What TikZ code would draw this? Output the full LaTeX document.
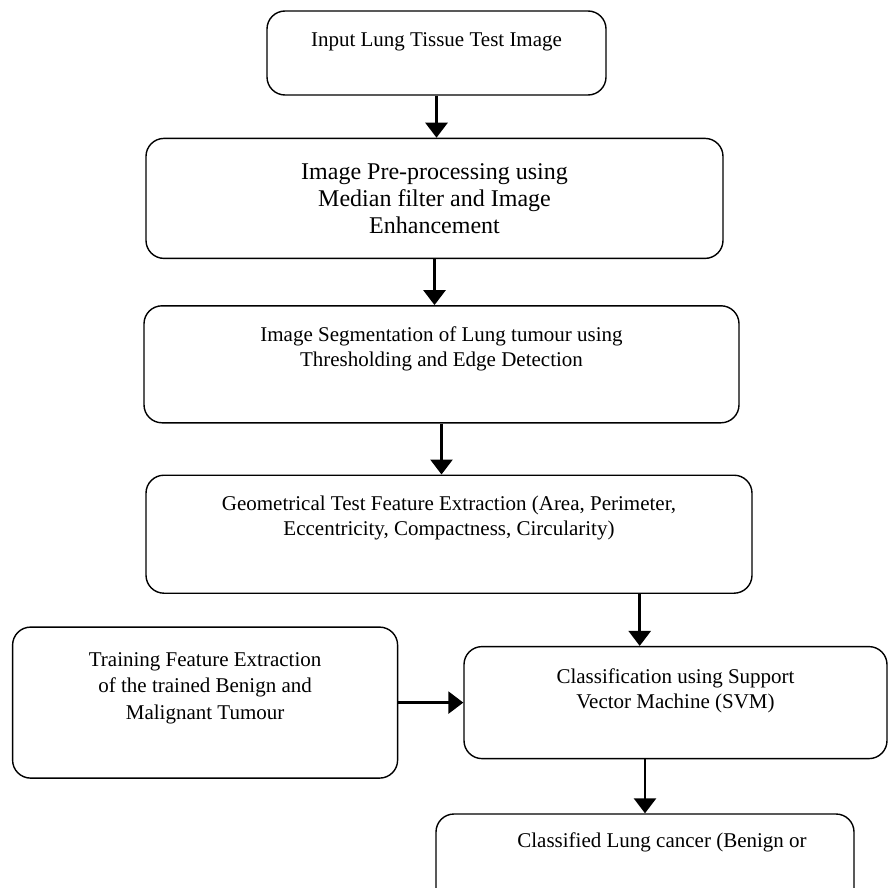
\documentclass[tikz,border=0pt]{standalone}
\usepackage{fontspec}
\setmainfont{Liberation Serif}
\usepackage{tikz}
\usetikzlibrary{arrows.meta, positioning}

\begin{document}
\begin{tikzpicture}[
    box/.style={draw, rounded corners=9pt, line width=0.7pt, align=center,
                font=\fontsize{10.5}{12.5}\selectfont},
    arrow/.style={-{Triangle[length=7.5pt, width=11pt]}, line width=1.4pt},
]
\useasboundingbox (0,0) rectangle (444pt,-444pt);

% Main column
\node[box, minimum width=169.5pt, minimum height=42pt, text height=8pt, text depth=14pt]
    (input) at (218.25pt,-26.5pt) {Input Lung Tissue Test Image};
\node[box, minimum width=288.5pt, minimum height=60pt, text height=35pt, text depth=0pt,
      font=\fontsize{12}{13.5}\selectfont, below=21pt of input, xshift=-1pt] (prep)
    {Image Pre-processing using\\Median filter and Image\\Enhancement};
\node[box, minimum width=297.5pt, minimum height=58.5pt, text height=20.5pt, text depth=18pt,
      below=23pt of prep, xshift=3.5pt] (segm)
    {Image Segmentation of Lung tumour using\\Thresholding and Edge Detection};
\node[box, minimum width=303pt, minimum height=59pt, text height=20.5pt, text depth=19.5pt,
      below=25.5pt of segm, xshift=3.75pt] (feat)
    {Geometrical Test Feature Extraction (Area, Perimeter,\\Eccentricity, Compactness, Circularity)};

% Classification stage
\node[box, minimum width=211.5pt, minimum height=56pt, text height=20.5pt, text depth=14.5pt,
      below=26pt of feat, xshift=113.25pt] (svm)
    {Classification using Support\\Vector Machine (SVM)};
\node[box, minimum width=192.5pt, minimum height=75.5pt, text height=34.5pt, text depth=18pt,
      font=\fontsize{10.5}{13.25}\selectfont, left=32.5pt of svm] (train)
    {Training Feature Extraction\\of the trained Benign and\\Malignant Tumour};
\node[box, minimum width=209pt, minimum height=60pt, text height=8pt, text depth=35pt,
      below=27pt of svm, xshift=-15.25pt] (result)
    {\hspace*{17pt}Classified Lung cancer (Benign or};

% Connectors
\draw[arrow] (input.south) -- (input.south |- prep.north);
\draw[arrow] (prep.south) -- (prep.south |- segm.north);
\draw[arrow] (segm.south) -- (segm.south |- feat.north);
\draw[arrow] ([xshift=-56.5pt]feat.south east) -- ([xshift=-56.5pt]feat.south east |- svm.north);
\draw[arrow] (train.east) -- (svm.west);
\draw[arrow] (svm.south -| result.north) -- (result.north);

\end{tikzpicture}
\end{document}
